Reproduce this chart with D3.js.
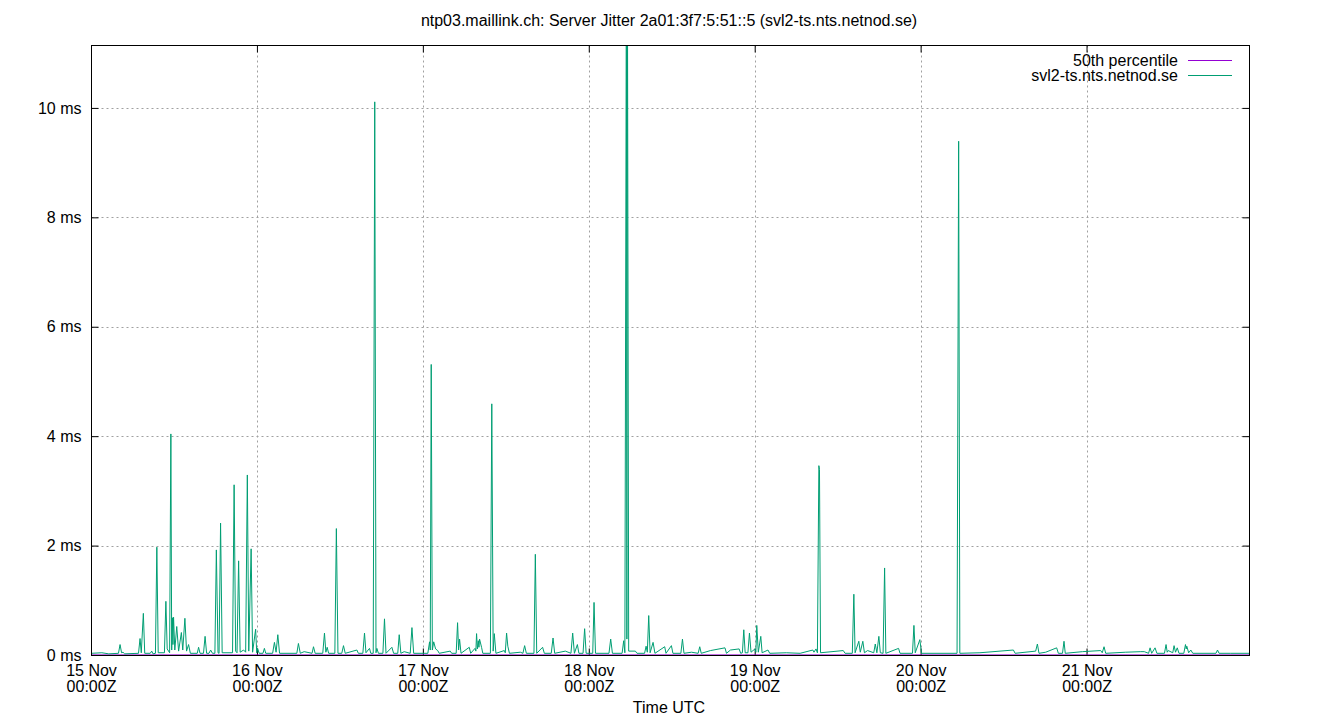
<!DOCTYPE html>
<html>
<head>
<meta charset="utf-8">
<script src="https://cdn.jsdelivr.net/npm/d3@7"></script>
<style>
  body { margin: 0; background: #fff; }
  svg { display: block; font-family: 'Liberation Sans', Arial, sans-serif; }
</style>
</head>
<body>
<div id="chart"></div>
<script>
// data: hours since 15 Nov 00:00Z, jitter in ms
var startTime = Date.UTC(2023, 10, 15, 0, 0, 0);
var endHour = 167.5;

var yTicks = [0, 2, 4, 6, 8, 10];
var dayTicks = ['15 Nov', '16 Nov', '17 Nov', '18 Nov', '19 Nov', '20 Nov', '21 Nov'];

var seriesNames = ['50th percentile', 'svl2-ts.nts.netnod.se'];
var seriesColors = ['#9400d3', '#009e73'];

var percentile = [[0, 0.01], [167.5, 0.01]];

var jitter = [
  [0, 0.04], [1.5, 0.05], [2.5, 0.03], [3.9, 0.04], [4.13, 0.20], [4.35, 0.05], [4.56, 0.06], [4.8, 0.03],
  [6.8, 0.04], [7.02, 0.31], [7.2, 0.05], [7.50, 0.77], [7.7, 0.04],
  [8.5, 0.04], [8.71, 0.08], [8.9, 0.03],
  [9.25, 0.04], [9.45, 1.98], [9.65, 0.05],
  [10.55, 0.05], [10.76, 0.99], [10.95, 0.12], [11.3, 0.05], [11.48, 4.05], [11.6, 0.1], [11.70, 0.69], [11.78, 0.2],
  [11.87, 0.70], [12.05, 0.1], [12.33, 0.53], [12.6, 0.08], [13.00, 0.42], [13.2, 0.1], [13.51, 0.68], [13.75, 0.08],
  [14.04, 0.20], [14.3, 0.04],
  [15.3, 0.04], [15.49, 0.15], [15.7, 0.04], [16.2, 0.04], [16.43, 0.35], [16.65, 0.04], [17.0, 0.04], [17.23, 0.10], [17.5, 0.04],
  [17.85, 0.04], [18.06, 1.93], [18.3, 0.05], [18.45, 0.04], [18.67, 2.42], [18.9, 0.05],
  [20.4, 0.05], [20.63, 3.12], [20.85, 0.08], [21.05, 0.05], [21.28, 1.73], [21.5, 0.06],
  [22.0, 0.1], [22.3, 0.06], [22.54, 3.30], [22.75, 0.08], [23.09, 1.95], [23.3, 0.06], [23.74, 0.48], [23.9, 0.05],
  [24.03, 0.13], [24.25, 0.04],
  [24.8, 0.04], [25.01, 0.13], [25.2, 0.04], [26.2, 0.04], [26.46, 0.24], [26.7, 0.06], [26.95, 0.38], [27.2, 0.04],
  [29.7, 0.04], [29.93, 0.22], [30.2, 0.04], [30.76, 0.07], [31.9, 0.04], [32.11, 0.16], [32.35, 0.04],
  [33.45, 0.04], [33.70, 0.41], [33.9, 0.06], [34.09, 0.15], [34.3, 0.04], [35.2, 0.04], [35.42, 2.32], [35.65, 0.04],
  [36.2, 0.04], [36.45, 0.18], [36.7, 0.04], [38.39, 0.10], [38.6, 0.04], [39.25, 0.04], [39.49, 0.41], [39.7, 0.05],
  [40.21, 0.13], [40.4, 0.04], [40.75, 0.04], [40.97, 10.12], [41.15, 0.05], [41.28, 0.13], [41.5, 0.04],
  [42.15, 0.04], [42.38, 0.67], [42.6, 0.04], [43.45, 0.15], [43.7, 0.04], [44.3, 0.04], [44.51, 0.38], [44.75, 0.04],
  [45.23, 0.07], [46.1, 0.04], [46.35, 0.51], [46.6, 0.04],
  [48.65, 0.04], [48.90, 0.25], [49.0, 0.1], [49.14, 5.32], [49.3, 0.1], [49.50, 0.25], [49.77, 0.12], [50.08, 0.09], [50.3, 0.04],
  [51.89, 0.08], [52.1, 0.04], [52.75, 0.04], [52.95, 0.60], [53.1, 0.1], [53.24, 0.30], [53.45, 0.04],
  [54.64, 0.15], [54.85, 0.04], [55.47, 0.13], [55.6, 0.08], [55.70, 0.40], [55.82, 0.12], [55.95, 0.27], [56.04, 0.15],
  [56.13, 0.30], [56.42, 0.15], [56.6, 0.04],
  [57.7, 0.04], [57.90, 4.60], [58.1, 0.08], [58.26, 0.40], [58.5, 0.04],
  [59.71, 0.09], [59.85, 0.05], [60.04, 0.41], [60.22, 0.17], [60.45, 0.04],
  [62.03, 0.06], [62.4, 0.04], [62.65, 0.18], [62.9, 0.04], [64.0, 0.04], [64.20, 1.85], [64.4, 0.04], [65.25, 0.15],
  [65.5, 0.04], [66.5, 0.04], [66.76, 0.32], [67.0, 0.04], [68.54, 0.08],
  [69.35, 0.04], [69.60, 0.41], [69.85, 0.04], [70.28, 0.20], [70.5, 0.04], [71.1, 0.04], [71.33, 0.49], [71.55, 0.04],
  [72.5, 0.04], [72.69, 0.97], [72.9, 0.04],
  [74.85, 0.04], [75.10, 0.30], [75.35, 0.04], [76.75, 0.04], [76.98, 0.27], [77.15, 0.05], [77.37, 12.5], [77.44, 0.3],
  [77.52, 12.5], [77.7, 0.08], [78.67, 0.08], [78.9, 0.04],
  [80.0, 0.04], [80.22, 0.17], [80.4, 0.06], [80.60, 0.73], [80.8, 0.05], [81.23, 0.24], [81.5, 0.04],
  [82.91, 0.16], [83.1, 0.04], [83.88, 0.18], [84.1, 0.04], [85.25, 0.04], [85.48, 0.30], [85.7, 0.04], [86.78, 0.06],
  [87.75, 0.04], [87.98, 0.16], [88.2, 0.04], [89.53, 0.09],
  [91.63, 0.14], [91.85, 0.04], [92.42, 0.10], [93.68, 0.12], [93.9, 0.04], [94.15, 0.05], [94.35, 0.47], [94.55, 0.05],
  [94.95, 0.05], [95.17, 0.41], [95.4, 0.06], [95.97, 0.12], [96.1, 0.06], [96.23, 0.55], [96.45, 0.06], [96.81, 0.35],
  [97.0, 0.05], [97.85, 0.10], [98.1, 0.04],
  [100.5, 0.05], [102.5, 0.04],
  [104.34, 0.10], [104.5, 0.06], [104.80, 0.12], [105.0, 0.05], [105.21, 3.47], [105.3, 3.4], [105.45, 0.05],
  [108.74, 0.09], [109.0, 0.04], [110.05, 0.04], [110.27, 1.12], [110.45, 0.05], [110.99, 0.26], [111.2, 0.06],
  [111.57, 0.26], [111.8, 0.05], [112.26, 0.09], [113.15, 0.05], [113.37, 0.21], [113.6, 0.05], [113.89, 0.35],
  [114.1, 0.05], [114.5, 0.04], [114.72, 1.60], [114.9, 0.04],
  [116.74, 0.13], [116.95, 0.04], [118.75, 0.04], [118.96, 0.55], [119.15, 0.05], [119.82, 0.29], [120.05, 0.04],
  [125.2, 0.04], [125.43, 9.40], [125.6, 0.04],
  [128.51, 0.05], [133.35, 0.10], [133.6, 0.04], [136.57, 0.08], [136.82, 0.21], [137.05, 0.04], [138.02, 0.06],
  [139.61, 0.14], [139.85, 0.04], [140.45, 0.04], [140.67, 0.26], [140.85, 0.04],
  [143.33, 0.07], [145.98, 0.09], [146.2, 0.05], [146.46, 0.16], [146.7, 0.04], [149.60, 0.06], [151.77, 0.07],
  [152.28, 0.07], [152.9, 0.04], [153.12, 0.14], [153.35, 0.04], [153.84, 0.14], [154.1, 0.04], [155.2, 0.04],
  [155.43, 0.20], [155.6, 0.06], [155.75, 0.09], [156.4, 0.05], [156.59, 0.18], [156.8, 0.06], [157.05, 0.14],
  [157.3, 0.04], [158.0, 0.04], [158.24, 0.20], [158.35, 0.12], [158.43, 0.17], [158.7, 0.05], [159.01, 0.10], [159.3, 0.04],
  [162.65, 0.04], [162.87, 0.10], [163.1, 0.04], [164.79, 0.04], [167.5, 0.04]
];

var attrs = {
  svgWidth: 1340,
  svgHeight: 720,
  marginTop: 45.5,
  marginLeft: 91.5,
  chartWidth: 1158,
  chartHeight: 610,
  fontSize: 16,
  tickLen: 7
};

var calc = {};
calc.chartWidth = attrs.chartWidth;
calc.chartHeight = attrs.chartHeight;

function toDate(h) { return new Date(startTime + h * 3600 * 1000); }

var x = d3.scaleUtc()
  .domain([toDate(0), toDate(endHour)])
  .range([0, calc.chartWidth]);

var y = d3.scaleLinear()
  .domain([0, 11.15])
  .range([calc.chartHeight, 0]);

var dayDates = dayTicks.map(function (d, i) { return toDate(i * 24); });

var svg = d3.select('#chart')
  .append('svg')
  .attr('width', attrs.svgWidth)
  .attr('height', attrs.svgHeight);

svg.append('text')
  .attr('x', 669)
  .attr('y', 26)
  .attr('text-anchor', 'middle')
  .attr('font-size', 16)
  .text('ntp03.maillink.ch: Server Jitter 2a01:3f7:5:51::5 (svl2-ts.nts.netnod.se)');

var chart = svg.append('g')
  .attr('transform', 'translate(' + attrs.marginLeft + ',' + attrs.marginTop + ')');

svg.append('defs').append('clipPath').attr('id', 'plot-clip')
  .append('rect')
  .attr('width', calc.chartWidth)
  .attr('height', calc.chartHeight);

// grid
chart.append('g')
  .selectAll('line.gy')
  .data(yTicks.slice(1))
  .enter()
  .append('line')
  .attr('x1', 0)
  .attr('x2', calc.chartWidth)
  .attr('y1', function (d) { return Math.round(y(d)); })
  .attr('y2', function (d) { return Math.round(y(d)); })
  .attr('stroke', '#a0a0a0')
  .attr('stroke-dasharray', '2,3');

chart.append('g')
  .selectAll('line.gx')
  .data(dayDates.slice(1))
  .enter()
  .append('line')
  .attr('x1', function (d) { return Math.round(x(d)); })
  .attr('x2', function (d) { return Math.round(x(d)); })
  .attr('y1', 0)
  .attr('y2', calc.chartHeight)
  .attr('stroke', '#a0a0a0')
  .attr('stroke-dasharray', '2,3');

// axes (ticks inward, mirrored)
var yAxis = d3.axisLeft(y)
  .tickValues(yTicks)
  .tickSize(-attrs.tickLen)
  .tickPadding(10)
  .offset(0)
  .tickFormat(function (d) { return d + ' ms'; });

var gy = chart.append('g').call(yAxis);
gy.select('.domain').remove();
gy.selectAll('text').attr('font-size', attrs.fontSize).attr('fill', '#000')
  .attr('font-family', "'Liberation Sans', Arial, sans-serif");

var gyr = chart.append('g')
  .attr('transform', 'translate(' + calc.chartWidth + ',0)')
  .call(d3.axisRight(y).tickValues(yTicks).tickSize(-attrs.tickLen).offset(0).tickFormat(''));
gyr.select('.domain').remove();

var xAxis = d3.axisBottom(x)
  .tickValues(dayDates)
  .tickSize(-attrs.tickLen)
  .offset(0)
  .tickFormat('');

var gx = chart.append('g')
  .attr('transform', 'translate(0,' + calc.chartHeight + ')')
  .call(xAxis);
gx.select('.domain').remove();

var gxt = chart.append('g')
  .call(d3.axisTop(x).tickValues(dayDates).tickSize(-attrs.tickLen).offset(0).tickFormat(''));
gxt.select('.domain').remove();

var xLabels = chart.append('g')
  .selectAll('text')
  .data(dayDates)
  .enter()
  .append('text')
  .attr('text-anchor', 'middle')
  .attr('font-size', attrs.fontSize)
  .attr('transform', function (d) { return 'translate(' + x(d) + ',' + (calc.chartHeight + 20) + ')'; });

xLabels.append('tspan').attr('x', 0).attr('y', 0).text(function (d, i) { return dayTicks[i]; });
xLabels.append('tspan').attr('x', 0).attr('y', 16).text('00:00Z');

svg.append('text')
  .attr('x', 669)
  .attr('y', 713)
  .attr('text-anchor', 'middle')
  .attr('font-size', attrs.fontSize)
  .text('Time UTC');

// series
var line = d3.line()
  .x(function (d) { return x(toDate(d[0])); })
  .y(function (d) { return y(d[1]); });

var plot = chart.append('g').attr('clip-path', 'url(#plot-clip)');

[percentile, jitter].forEach(function (s, i) {
  plot.append('path')
    .datum(s)
    .attr('d', line)
    .attr('fill', 'none')
    .attr('stroke', seriesColors[i])
    .attr('stroke-width', 1);
});

// border
chart.append('rect')
  .attr('x', 0)
  .attr('y', 0)
  .attr('width', calc.chartWidth)
  .attr('height', calc.chartHeight)
  .attr('fill', 'none')
  .attr('stroke', '#000')
  .attr('stroke-width', 1);

// legend
var legend = svg.append('g')
  .selectAll('g')
  .data(seriesNames)
  .enter()
  .append('g')
  .attr('transform', function (d, i) { return 'translate(0,' + (60.5 + i * 15) + ')'; });

legend.append('text')
  .attr('x', 1178)
  .attr('y', 5)
  .attr('text-anchor', 'end')
  .attr('font-size', attrs.fontSize)
  .text(function (d) { return d; });

legend.append('line')
  .attr('x1', 1188)
  .attr('x2', 1232)
  .attr('y1', 0)
  .attr('y2', 0)
  .attr('stroke', function (d, i) { return seriesColors[i]; })
  .attr('stroke-width', 1);
</script>
</body>
</html>
